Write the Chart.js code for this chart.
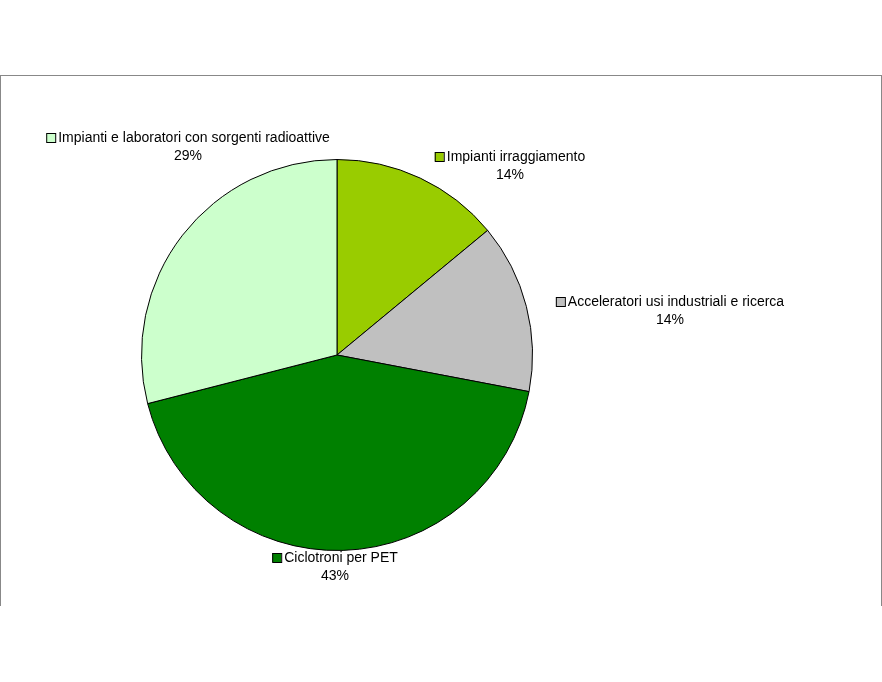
<!DOCTYPE html>
<html><head><meta charset="utf-8">
<script src="https://cdn.jsdelivr.net/npm/chart.js@4"></script>
<style>
html,body{margin:0;padding:0;background:#fff;}
#wrap{position:absolute;left:0;top:0;width:882px;height:682px;}
#frame{position:absolute;left:0;top:75px;width:880px;height:530px;border-top:1px solid #888;border-left:1px solid #888;border-right:1px solid #888;}
</style></head><body>
<div id="wrap"><div id="frame"></div><canvas id="c" width="882" height="682"></canvas></div>
<script>
const categories = ["Impianti irraggiamento","Acceleratori usi industriali e ricerca","Ciclotroni per PET","Impianti e laboratori con sorgenti radioattive"];
const values = [14,14,43,29];
const percentLabels = ["14%","14%","43%","29%"];
const colors = ["#99cc00","#c0c0c0","#008000","#ccffcc"];
const labelPos = [[510,157],[670,302],[335,558],[188,138]];

const labelPlugin = {
  id:'labels',
  afterDraw(chart){
    const ctx = chart.ctx;
    ctx.save();
    ctx.font = '14px "Liberation Sans", Arial, sans-serif';
    ctx.fillStyle = '#000';
    ctx.textBaseline = 'middle';
    categories.forEach((name,i)=>{
      const [cx,cy] = labelPos[i];
      const w = ctx.measureText(name).width + 12;
      const x0 = cx - w/2;
      ctx.fillStyle = colors[i];
      ctx.fillRect(x0, cy-5, 9, 9);
      ctx.strokeStyle = '#000'; ctx.lineWidth = 1;
      ctx.strokeRect(x0+0.5, cy-4.5, 9, 9);
      ctx.fillStyle = '#000';
      ctx.textAlign = 'left';
      ctx.fillText(name, x0+12, cy);
      ctx.textAlign = 'center';
      ctx.fillText(percentLabels[i], cx, cy+18);
    });
    ctx.restore();
  }
};

new Chart(document.getElementById('c'), {
  type:'pie',
  data:{labels:categories, datasets:[{data:values, backgroundColor:colors, borderColor:'#000', borderWidth:1}]},
  options:{
    responsive:false, animation:false,
    layout:{padding:{top:159,bottom:131,left:141,right:349}},
    plugins:{legend:{display:false},tooltip:{enabled:false}}
  },
  plugins:[labelPlugin]
});
</script></body></html>
